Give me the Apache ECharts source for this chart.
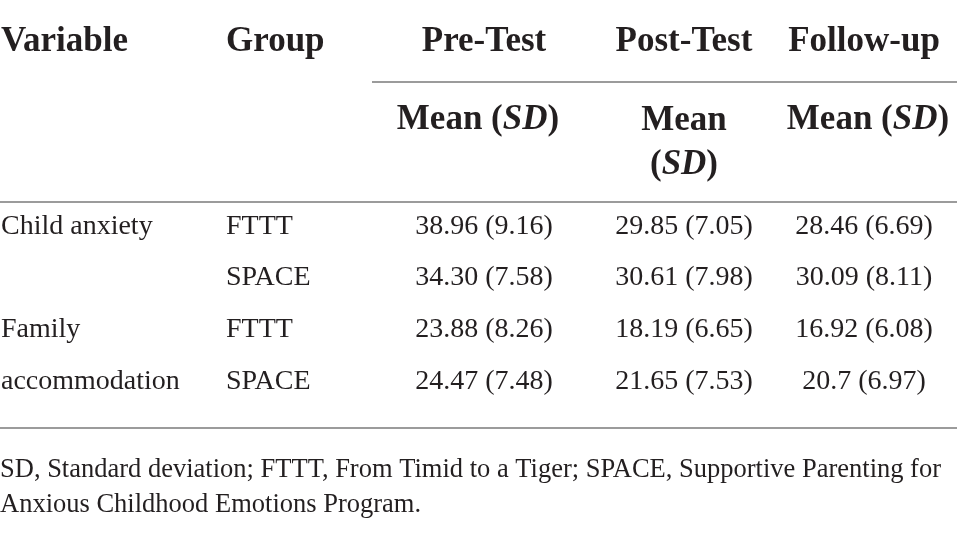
<!DOCTYPE html>
<html>
<head>
<meta charset="utf-8">
<script src="https://cdn.jsdelivr.net/npm/echarts@6/dist/echarts.min.js"></script>
<style>
  html, body { margin: 0; padding: 0; background: #fff; }
  #chart { width: 957px; height: 543px; }
</style>
</head>
<body>
<div id="chart"></div>
<script>
// table content
var variables = ['Child anxiety', '', 'Family', 'accommodation'];
var groups = ['FTTT', 'SPACE', 'FTTT', 'SPACE'];
var timepoints = ['Pre-Test', 'Post-Test', 'Follow-up'];
var preTest = ['38.96 (9.16)', '34.30 (7.58)', '23.88 (8.26)', '24.47 (7.48)'];
var postTest = ['29.85 (7.05)', '30.61 (7.98)', '18.19 (6.65)', '21.65 (7.53)'];
var followUp = ['28.46 (6.69)', '30.09 (8.11)', '16.92 (6.08)', '20.7 (6.97)'];
var footnote = [
    'SD, Standard deviation; FTTT, From Timid to a Tiger; SPACE, Supportive Parenting for',
    'Anxious Childhood Emotions Program.'
];

// layout (pixels on hidden value axes)
var colVar = 1, colGroup = 226;
var colTime = [484, 684, 864];
var headY = 42, subY = 120;
var rowY = [227, 278, 330, 382];
var noteY = [470, 505];
var rules = [
    { y: 82, from: 372, to: 957 },
    { y: 202, from: 0, to: 957 },
    { y: 428, from: 0, to: 957 }
];

var ink = '#231f20';
var serif = 'Liberation Serif';

function cell(x, y, text, align, size, bold) {
    return {
        value: [x, y],
        label: {
            formatter: text,
            align: align,
            fontSize: size,
            fontWeight: bold ? 'bold' : 'normal'
        }
    };
}

var cells = [];
cells.push(cell(colVar, headY, 'Variable', 'left', 35, true));
cells.push(cell(colGroup, headY, 'Group', 'left', 35, true));
timepoints.forEach(function (t, i) {
    cells.push(cell(colTime[i], headY, t, 'center', 35, true));
});
var meanSd = '{b|Mean (}{bi|SD}{b|)}';
cells.push(cell(colTime[0] - 6, subY, meanSd, 'center', 35, true));
cells.push(cell(colTime[1], subY + 23, '{b|Mean}\n{b|(}{bi|SD}{b|)}', 'center', 35, true));
cells.push(cell(colTime[2] + 4, subY, meanSd, 'center', 35, true));

[preTest, postTest, followUp].forEach(function (col, c) {
    col.forEach(function (v, r) {
        cells.push(cell(colTime[c], rowY[r], v, 'center', 28, false));
    });
});
variables.forEach(function (v, r) {
    if (v) cells.push(cell(colVar, rowY[r], v, 'left', 28, false));
});
groups.forEach(function (g, r) {
    cells.push(cell(colGroup, rowY[r], g, 'left', 28, false));
});
footnote.forEach(function (t, i) {
    cells.push(cell(0, noteY[i], t, 'left', 26.5, false));
});

var ruleSeries = rules.map(function (r) {
    return {
        type: 'line',
        data: [[r.from, r.y], [r.to, r.y]],
        symbol: 'none',
        silent: true,
        lineStyle: { color: '#9b9b9b', width: 2 }
    };
});

var dom = document.getElementById('chart');
var myChart = echarts.init(dom, null, { renderer: 'canvas' });

var option = {
    backgroundColor: '#fff',
    animation: false,
    grid: { left: 0, right: 0, top: 0, bottom: 0 },
    xAxis: { type: 'value', min: 0, max: 957, show: false },
    yAxis: { type: 'value', min: 0, max: 543, inverse: true, show: false },
    series: ruleSeries.concat([{
        type: 'scatter',
        symbolSize: 0,
        silent: true,
        itemStyle: { opacity: 1 },
        data: cells,
        label: {
            show: true,
            position: 'inside',
            verticalAlign: 'middle',
            color: ink,
            opacity: 1,
            fontFamily: serif,
            lineHeight: 44,
            rich: {
                b: { fontWeight: 'bold', fontSize: 35, fontFamily: serif, color: ink, lineHeight: 44 },
                bi: { fontWeight: 'bold', fontStyle: 'italic', fontSize: 35, fontFamily: serif, color: ink, lineHeight: 44 }
            }
        }
    }])
};

myChart.setOption(option);
window.addEventListener('resize', myChart.resize);
</script>
</body>
</html>
